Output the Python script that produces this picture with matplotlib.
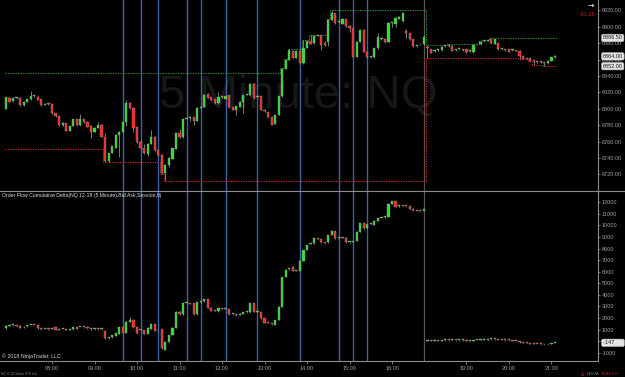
import numpy as np
import matplotlib
matplotlib.use("Agg")
import matplotlib.pyplot as plt
from matplotlib.lines import Line2D
import matplotlib.transforms as mtransforms

plt.rcParams['font.family'] = ['Liberation Sans', 'DejaVu Sans']

# ---------------- data ----------------
session1_start_min = 6 * 60 + 55     # 06:55
session1_count = 119
session2_start_min = 18 * 60 + 5     # 18:05
session2_count = 37

price_open = [
    6800.25, 6813.5, 6809.5, 6813.5, 6813.5, 6804.75, 6808.75, 6811.5, 6815.5, 6814.75,
    6811.5, 6805, 6806, 6805.5, 6794.5, 6791.25, 6780.5, 6782.25, 6773.25, 6779,
    6787, 6779.75, 6787, 6784, 6779, 6772, 6777, 6780.5, 6766, 6736,
    6746.5, 6752.5, 6768, 6771.25, 6784, 6806.75, 6801.5, 6777.5, 6760, 6751.75,
    6744.75, 6757, 6766, 6749.75, 6744, 6722, 6731.75, 6739, 6751.25, 6770,
    6765.25, 6788, 6789, 6789.5, 6785, 6801.5, 6802.5, 6817.5, 6814, 6811.5,
    6806.75, 6814, 6812.5, 6816.5, 6801.75, 6798.5, 6802.5, 6808.25, 6817, 6816.75,
    6830.75, 6815, 6815.5, 6797.5, 6796, 6790.5, 6781.5, 6792.5, 6815.5, 6849,
    6859.5, 6871, 6862.5, 6871, 6855.5, 6874.5, 6882.25, 6879.75, 6889, 6890,
    6880.75, 6882, 6908.5, 6916.5, 6906, 6903.5, 6909.25, 6901, 6898.5, 6863.5,
    6882, 6896.25, 6869.75, 6863.5, 6862.75, 6873.75, 6885.25, 6884.75, 6882, 6904.25,
    6903.5, 6909.25, 6907.5, 6895.25, 6892, 6884.75, 6876.75, 6878.5, 6878.75,
    6875, 6872.5, 6870.5, 6871.5, 6871.75, 6876.25, 6876.5, 6876.5, 6871.5, 6872.5,
    6871.75, 6872.5, 6870.75, 6869, 6878.5, 6878.75, 6882.5, 6883, 6884.75, 6879,
    6880, 6872.5, 6871.75, 6872.5, 6871.5, 6871, 6870.75, 6864.5, 6861, 6861.5,
    6858.25, 6857.75, 6857.25, 6857, 6855.5, 6858.75, 6862.75]
price_high = [
    6815, 6814.5, 6813.5, 6815, 6814.25, 6809.5, 6813.25, 6822, 6817, 6815.5,
    6812, 6806.5, 6807, 6806, 6795, 6792, 6784, 6783, 6779.5, 6788,
    6788, 6793.5, 6788, 6785, 6780, 6778, 6784, 6781, 6771, 6746.5,
    6755, 6769, 6772.5, 6785, 6810.5, 6808, 6802, 6778, 6761.5, 6757,
    6758, 6774, 6767, 6750.5, 6745, 6732.5, 6741, 6752.5, 6771, 6775.5,
    6788, 6789.5, 6791, 6790, 6802, 6803.5, 6818, 6819, 6814.5, 6812,
    6820, 6815.5, 6816.5, 6817, 6802.5, 6804, 6809, 6817, 6818.5, 6831.5,
    6831.5, 6816.5, 6816, 6798.5, 6796.5, 6791, 6793, 6816, 6850, 6861,
    6873, 6872, 6872, 6872, 6884.25, 6883, 6890.25, 6889.5, 6890, 6890.25,
    6882.5, 6909, 6920.5, 6917.5, 6908, 6911, 6910, 6902, 6899.5, 6883,
    6897, 6897, 6870.5, 6865, 6874.5, 6893, 6886.5, 6885.5, 6905.5, 6905.5,
    6911.5, 6913.5, 6917.5, 6897, 6893, 6885.5, 6878, 6879.5, 6889.5,
    6878, 6873.5, 6872, 6872.5, 6876.5, 6877.5, 6879, 6877.5, 6872.5, 6873.5,
    6872.5, 6873, 6871.5, 6878.5, 6879.5, 6882.5, 6884, 6884.5, 6886.5, 6885.5,
    6880.75, 6873.5, 6872.5, 6873, 6872.5, 6871.5, 6871.5, 6865, 6861.5, 6862,
    6859, 6858.5, 6858, 6857.5, 6859.5, 6863.5, 6866]
price_low = [
    6799.5, 6808, 6808.75, 6812.5, 6804, 6804, 6808, 6811, 6814.5, 6810.5,
    6804, 6804.5, 6805, 6794, 6790.5, 6779, 6778.5, 6772.5, 6772.5, 6778.5,
    6779, 6779, 6783, 6777.5, 6764.75, 6771.5, 6776.5, 6765.5, 6734.75, 6735.5,
    6745.5, 6752, 6740.75, 6770, 6779, 6799.5, 6772, 6758.5, 6751, 6744.75,
    6742.5, 6756.5, 6749, 6742.75, 6721, 6711.5, 6729, 6738.5, 6750.5, 6764.75,
    6764.5, 6787.5, 6785, 6780, 6784.5, 6801, 6802, 6813, 6810, 6806,
    6806, 6813.5, 6812, 6801, 6798, 6792, 6802, 6795, 6816.5, 6816,
    6812, 6814.5, 6798, 6796.5, 6789, 6780, 6781, 6792, 6815, 6848.5,
    6859, 6862, 6862, 6855, 6855, 6874, 6878.5, 6879, 6888.5, 6872,
    6876.5, 6877, 6908, 6903.5, 6904.5, 6903, 6900, 6894, 6863, 6863,
    6881.5, 6869, 6862, 6862.5, 6862.25, 6873.25, 6884.5, 6880, 6881, 6900,
    6900, 6909, 6906.5, 6887, 6884, 6876, 6876, 6877.5, 6878.25,
    6862.5, 6868, 6869.5, 6870.5, 6871, 6875.5, 6876, 6870.5, 6870.5, 6871.5,
    6870.5, 6868.5, 6869.5, 6868.5, 6877.5, 6878.25, 6882, 6882.5, 6879.25, 6878.5,
    6872, 6871.75, 6870.75, 6869.25, 6870.75, 6870, 6860.5, 6860.75, 6860.5, 6857.75,
    6853.5, 6856.5, 6856, 6852, 6855, 6858.25, 6862.25]
price_close = [
    6814, 6808.75, 6812.75, 6814, 6804.5, 6808.75, 6812.5, 6815.5, 6815.75, 6811,
    6804.5, 6806, 6805.75, 6794.5, 6791.25, 6779.75, 6782.25, 6773.25, 6779, 6787,
    6779.75, 6788, 6784, 6778.25, 6772, 6777, 6780.5, 6766, 6736, 6745.5,
    6754, 6768, 6771.25, 6784, 6807.5, 6800.5, 6777, 6760, 6751.75, 6745.5,
    6757, 6766, 6749.75, 6743.5, 6721.5, 6731.75, 6740, 6751.75, 6770, 6765.25,
    6787, 6788.75, 6789.5, 6784.75, 6801.5, 6802.5, 6817.25, 6813.5, 6810.75, 6806.75,
    6814.75, 6814.75, 6815.5, 6801.75, 6798.5, 6803.5, 6808.25, 6816.5, 6817.5, 6830.75,
    6812.75, 6815.5, 6798.5, 6797.25, 6789.5, 6780.5, 6792.5, 6815.5, 6849, 6859.5,
    6871.75, 6862.5, 6871, 6855.5, 6874.5, 6882.25, 6879, 6888.75, 6889.25, 6877.75,
    6877.5, 6908.5, 6917.25, 6904.25, 6906.5, 6909.25, 6901, 6898.5, 6863.5, 6882,
    6896.25, 6869.75, 6862.75, 6863.75, 6873.75, 6887.25, 6885.5, 6882, 6904.25, 6904.5,
    6910.5, 6911.5, 6916.5, 6892, 6884.75, 6876.5, 6877, 6878.75, 6888,
    6874, 6868.5, 6871, 6871.75, 6875.75, 6876.5, 6876.75, 6871, 6871.75, 6872.75,
    6871.5, 6869.25, 6871, 6877.75, 6878.75, 6882, 6882.75, 6883.25, 6879.75, 6884.75,
    6872.5, 6872.75, 6871.5, 6869.75, 6871.75, 6870.75, 6864.5, 6861.25, 6860.75, 6858.25,
    6858, 6857.5, 6857, 6855.5, 6858.75, 6862.75, 6864]

prior_session_high = 6843.25
prior_session_low = 6750.5

delta_open = [
    1100, 1340, 1360, 1370, 1330, 1180, 1270, 1390, 1400, 1390,
    1120, 1030, 1040, 1030, 1190, 1000, 1040, 1040, 990, 1020,
    1190, 1200, 1220, 1150, 1070, 1020, 1020, 1010, 870, 240,
    330, 470, 610, 1190, 730, 1680, 1850, 1190, 960, 960,
    610, 1050, 1450, 920, 1050, -770, -50, 530, 1160, 2540,
    2310, 3260, 3240, 3260, 2310, 3350, 3440, 3610, 2890, 2630,
    2570, 2830, 2780, 2790, 2310, 2280, 2280, 2370, 2490, 2490,
    3290, 2550, 2490, 1970, 1600, 1500, 1390, 1830, 2980, 5540,
    6200, 6430, 6060, 6060, 6920, 7870, 8380, 8450, 8880, 8830,
    8480, 8540, 9170, 9520, 8880, 8940, 8940, 8540, 8560, 8650,
    9460, 10210, 9750, 10090, 10040, 10410, 10640, 10700, 10750, 11850,
    12110, 11650, 11700, 11680, 11650, 11450, 11300, 11270, 11250,
    0, 70, -10, 40, 30, 60, 70, 60, 70, 60,
    70, 80, 10, 40, 100, 110, 120, 130, 150, 180,
    150, 110, 80, 70, 60, -10, 0, -110, -130, -170,
    -220, -250, -260, -280, -290, -240, -180]
delta_high = [
    1350, 1380, 1390, 1390, 1350, 1270, 1410, 1430, 1420, 1400,
    1140, 1070, 1060, 1070, 1210, 1060, 1070, 1060, 1070, 1210,
    1210, 1240, 1240, 1170, 1090, 1050, 1040, 1040, 890, 350,
    550, 690, 1210, 1210, 1700, 2110, 1870, 1210, 980, 980,
    1180, 1470, 1470, 980, 1070, -30, 550, 1180, 2560, 2560,
    3310, 3300, 3260, 3280, 3370, 3480, 3630, 3630, 2910, 2650,
    2850, 2850, 2810, 2810, 2340, 2300, 2390, 2510, 2520, 3310,
    3310, 2620, 2510, 1990, 1620, 1520, 1850, 3000, 5560, 6190,
    6310, 6450, 6170, 6940, 7890, 8330, 8470, 8900, 8900, 8850,
    8500, 9190, 9540, 9540, 8960, 8960, 8960, 8580, 8670, 9480,
    10230, 10230, 10110, 10140, 10430, 10630, 10720, 10770, 11870, 12130,
    12130, 11730, 11800, 11700, 11670, 11470, 11320, 11290, 11440,
    90, 90, 60, 60, 80, 90, 90, 90, 90, 90,
    100, 100, 60, 120, 130, 140, 150, 170, 200, 200,
    170, 130, 100, 90, 80, 20, 20, -90, -110, -150,
    -200, -230, -240, -260, -220, -160, -130]
delta_low = [
    1080, 1320, 1340, 1310, 1140, 1160, 1250, 1370, 1360, 1080,
    1000, 1010, 1000, 1010, 970, 980, 1020, 970, 970, 1000,
    1030, 1180, 1170, 1080, 1000, 1000, 990, 990, 220, 220,
    310, 450, 590, 710, 710, 1660, 1170, 650, 910, 590,
    590, 1030, 880, 900, -650, -790, -70, 510, 1140, 2290,
    2290, 3240, 3210, 2290, 2290, 3330, 3420, 2870, 2610, 2580,
    2550, 2760, 2760, 2290, 2290, 2210, 2260, 2350, 2470, 2470,
    2490, 2530, 1950, 1570, 1560, 1430, 1370, 1810, 2960, 5520,
    6180, 6040, 6040, 6040, 6900, 7850, 8360, 8430, 8830, 8520,
    8430, 8520, 9150, 8860, 8860, 8900, 8520, 8520, 8540, 8630,
    9440, 9730, 9730, 10070, 10020, 10390, 10620, 10680, 10730, 11830,
    11600, 11630, 11660, 11630, 11400, 11280, 11250, 11230, 11230,
    -20, -30, -30, 10, 10, 40, 40, 40, 40, 40,
    50, -10, -10, 20, 80, 90, 100, 110, 130, 130,
    90, 60, 50, 40, -30, -30, -130, -150, -190, -240,
    -270, -280, -300, -310, -310, -260, -200]
delta_close = [
    1330, 1360, 1370, 1330, 1160, 1250, 1390, 1400, 1380, 1100,
    1020, 1050, 1020, 1050, 990, 1040, 1050, 990, 1050, 1190,
    1050, 1220, 1190, 1100, 1020, 1030, 1010, 1020, 240, 330,
    530, 670, 1190, 730, 1680, 1850, 1190, 670, 930, 610,
    1160, 1450, 900, 960, -630, -50, 530, 1160, 2540, 2310,
    3290, 3280, 3230, 2310, 3350, 3440, 3610, 2890, 2630, 2600,
    2830, 2780, 2790, 2310, 2320, 2230, 2370, 2490, 2500, 3290,
    2510, 2600, 1970, 1590, 1580, 1450, 1830, 2980, 5540, 6170,
    6290, 6060, 6150, 6920, 7870, 8310, 8450, 8880, 8850, 8540,
    8450, 9170, 9520, 8880, 8940, 8920, 8540, 8560, 8650, 9460,
    10210, 9750, 10090, 10120, 10410, 10610, 10700, 10750, 11850, 12110,
    11620, 11710, 11680, 11650, 11420, 11300, 11270, 11250, 11420,
    70, -10, 40, 30, 60, 70, 60, 70, 60, 70,
    80, 10, 40, 100, 110, 120, 130, 150, 180, 150,
    110, 80, 70, 60, -10, 0, -110, -130, -170, -220,
    -250, -260, -280, -290, -240, -180, -147]

marker_times = ["09:40", "10:05", "10:30", "11:10", "11:30", "12:05",
                "12:50", "13:50", "14:45", "15:05", "15:25"]
session_break_time = "16:45"
x_tick_labels = ["08:00", "09:00", "10:00", "11:00", "12:00", "13:00",
                 "14:00", "15:00", "16:00", "19:00", "20:00", "21:00"]
price_ticks = list(range(6720, 6921, 20))
delta_ticks = list(range(-1000, 12001, 1000))
net_change = -51.25
title_text = "Order Flow Cumulative Delta(NQ 12-18 (5 Minute),Bid Ask,Session,0)"

# ---------------- derived ----------------
O = np.array(price_open); H = np.array(price_high)
L = np.array(price_low); C = np.array(price_close)
dO = np.array(delta_open); dH = np.array(delta_high)
dL = np.array(delta_low); dC = np.array(delta_close)
n = len(O)
idx = np.arange(n)
bar_min = [session1_start_min + 5 * k for k in range(session1_count)] + \
          [session2_start_min + 5 * k for k in range(session2_count)]
bar_lbl = ["%02d:%02d" % (m // 60, m % 60) for m in bar_min]
pos_of = {t: i for i, t in enumerate(bar_lbl)}

hi_line, lo_line = [], []
for i in range(n):
    if i == 0:
        ch, cl = max(prior_session_high, H[i]), min(prior_session_low, L[i])
    elif i == session1_count:
        ch, cl = H[i], L[i]
    else:
        ch, cl = max(ch, H[i]), min(cl, L[i])
    hi_line.append(ch); lo_line.append(cl)

# ---------------- figure ----------------
W, Hpx = 625, 377
fig = plt.figure(figsize=(W / 100, Hpx / 100), dpi=100, facecolor='black')
axr = 598 / W
ax1 = fig.add_axes([0, 1 - 191 / Hpx, axr, 191 / Hpx])
ax2 = fig.add_axes([0, 1 - 361 / Hpx, axr, 170 / Hpx])
for ax in (ax1, ax2):
    ax.set_facecolor('black')
    ax.set_xlim(-1.68, 167.15)
    for s in ('left', 'top', 'bottom'):
        ax.spines[s].set_visible(False)
    ax.spines['right'].set_color('#8c8c8c')
    ax.spines['right'].set_linewidth(0.8)
    ax.yaxis.tick_right()
    ax.tick_params(axis='y', colors='#a0a0a0', labelsize=4.0, length=1.5,
                   width=0.5, pad=1.2)
ax2.spines['bottom'].set_visible(True)
ax2.spines['bottom'].set_color('#8c8c8c')
ax2.spines['bottom'].set_linewidth(0.8)

ax1.set_ylim(6699.65, 6932.8)
ax2.set_ylim(-1720, 12973)

UP, DN, EDGE, WICK = '#2fe22f', '#ff2121', '#8f8f8f', '#9a9a9a'
BW = 0.62


def candles(ax, o, h, l, c, minh):
    ax.vlines(idx, l, h, color=WICK, lw=0.55, zorder=3)
    bottom = np.minimum(o, c)
    height = np.maximum(np.abs(c - o), minh)
    cols = [UP if cc >= oo else DN for oo, cc in zip(o, c)]
    ax.bar(idx, height, bottom=bottom, width=BW, color=cols, edgecolor=EDGE,
           linewidth=0.3, zorder=4)


# watermark (behind everything in the price panel)
ax1.text(298 / 598, 1 - 96 / 191, "5 Minute: NQ", transform=ax1.transAxes,
         fontsize=34, color='#171717', ha='center', va='center', zorder=0.2)

# marker lines
for ax in (ax1, ax2):
    for t in marker_times:
        ax.axvline(pos_of[t], color='#3f62a8', lw=1.0, zorder=1)
    ax.axvline(pos_of[session_break_time], color='#555555', lw=0.9, zorder=1)

# session high / low step lines
xs = np.r_[-0.35, idx, n - 0.5]
ax1.step(xs, np.r_[hi_line[0], hi_line, hi_line[-1]], where='mid',
         color='#1f9a3f', lw=0.75, ls=(0, (1.2, 1.2)), zorder=2)
ax1.step(xs, np.r_[lo_line[0], lo_line, lo_line[-1]], where='mid',
         color='#d42020', lw=0.75, ls=(0, (1.2, 1.2)), zorder=2)

candles(ax1, O, H, L, C, 1.1)
candles(ax2, dO, dH, dL, dC, 80)

# ticks
ax1.set_yticks(price_ticks)
ax1.set_yticklabels(["%.2f" % v for v in price_ticks])
ax1.set_xticks([])
ax2.set_yticks(delta_ticks)
# the "0" label sits under the last-value marker, as in the original
ax2.set_yticklabels(["" if v == 0 else "%d" % v for v in delta_ticks])
ax2.set_xticks([pos_of[t] for t in x_tick_labels])
ax2.set_xticklabels(x_tick_labels)
ax2.tick_params(axis='x', colors='#a0a0a0', labelsize=4.0, length=2,
                width=0.5, pad=1.5)

# value markers on the axes
def box():
    return dict(boxstyle='round,pad=0.22,rounding_size=0.3', fc='#e4e4e4',
                ec='#b8b8b8', lw=0.4)


tr1 = mtransforms.blended_transform_factory(ax1.transAxes, ax1.transData)
s2 = slice(session1_count, n)
for v in (max(price_high[s2]), price_close[-1], min(price_low[s2])):
    ax1.text(1.008, v, "%.2f" % v, transform=tr1, fontsize=4.0, color='#1a1a1a',
             va='center', ha='left', bbox=box(), zorder=10, clip_on=False)
tr2 = mtransforms.blended_transform_factory(ax2.transAxes, ax2.transData)
ax2.text(1.008, delta_close[-1], "%d\u00a0\u00a0\u00a0\u00a0\u00a0\u00a0" % delta_close[-1],
         transform=tr2, fontsize=4.0, color='#1a1a1a', va='center', ha='left',
         bbox=box(), zorder=10, clip_on=False)


def px(x, y):
    return x / W, 1 - y / Hpx


fig.text(*px(588, 14.5), "%.2f" % net_change, fontsize=4.0, color='#e01515',
         ha='center', va='center')
fig.text(*px(590.5, 5.5), "\u2192", fontsize=5.5, color='white', ha='center',
         va='center', family='DejaVu Sans')

fig.text(*px(2, 196), title_text, fontsize=3.7, color='#dcdcdc', ha='left',
         va='center')
fig.text(*px(2, 356), "\u00a9 2018 NinjaTrader, LLC", fontsize=3.8,
         color='#d6d6d6', ha='left', va='center')
fig.text(*px(1, 374), "NQ 12-18 Globex ETH 4x4", fontsize=2.2, color='#8a8a8a',
         ha='left', va='center')
fig.text(*px(583, 374), "\u25b2", fontsize=3.0, color='#b01818', ha='center',
         va='center', family='DejaVu Sans')
fig.text(*px(587, 374), "NINJA", fontsize=3.2, color='#7a7a7a', ha='left',
         va='center')
fig.text(*px(601, 374), "TRADER", fontsize=3.2, color='#a82020', ha='left',
         va='center')

# separator across the full width
fig.add_artist(Line2D([0, 1], [1 - 191 / Hpx] * 2, transform=fig.transFigure,
                      color='#8c8c8c', lw=0.8))

fig.savefig("out.png", dpi=100, facecolor='black')
